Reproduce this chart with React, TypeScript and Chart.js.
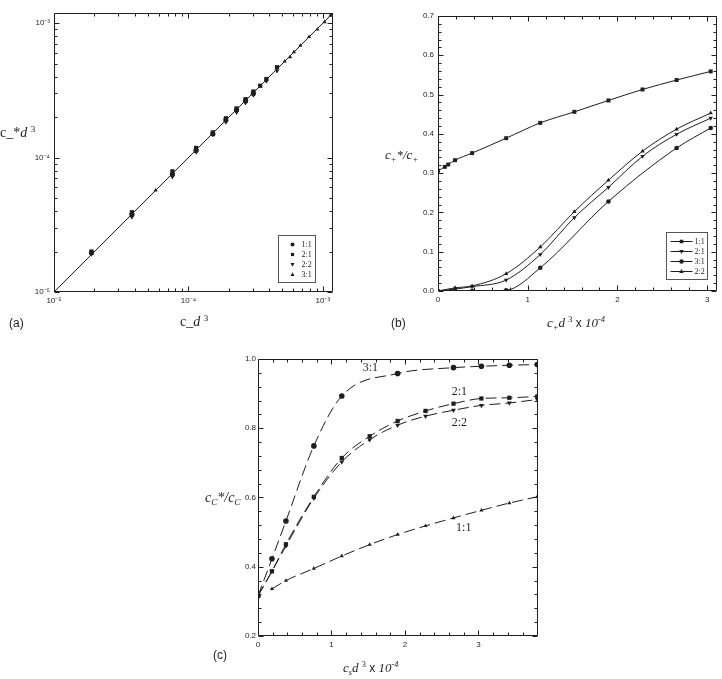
import React, { useEffect, useRef } from "react";
import { Chart, registerables } from "chart.js";
Chart.register(...registerables);

// ---------- Panel (a): c_-* d^3 vs c_- d^3 (log-log) ----------
const A_X_11 = [1.9e-5, 3.8e-5, 7.6e-5, 1.14e-4, 1.52e-4, 1.9e-4, 2.28e-4, 2.66e-4, 3.04e-4];
const A_Y_11 = [1.96e-5, 3.78e-5, 7.5e-5, 1.13e-4, 1.5e-4, 1.9e-4, 2.26e-4, 2.64e-4, 3.0e-4];
const A_X_21 = [1.9e-5, 3.8e-5, 7.6e-5, 1.14e-4, 1.52e-4, 1.9e-4, 2.28e-4, 2.66e-4, 3.04e-4, 3.42e-4, 3.8e-4, 4.56e-4];
const A_Y_21 = [2.0e-5, 3.92e-5, 7.9e-5, 1.18e-4, 1.54e-4, 1.96e-4, 2.32e-4, 2.72e-4, 3.1e-4, 3.42e-4, 3.84e-4, 4.7e-4];
const A_X_22 = [1.9e-5, 3.8e-5, 7.6e-5, 1.14e-4, 1.52e-4, 1.9e-4, 2.28e-4, 2.66e-4, 3.04e-4, 3.8e-4, 4.56e-4];
const A_Y_22 = [1.92e-5, 3.62e-5, 7.2e-5, 1.1e-4, 1.5e-4, 1.84e-4, 2.18e-4, 2.56e-4, 2.92e-4, 3.72e-4, 4.42e-4];
const A_X_31 = [5.7e-5, 5.2e-4, 5.7e-4, 6.1e-4, 6.8e-4, 7.9e-4, 9.1e-4, 1.03e-3, 1.14e-3];
const A_Y_31 = [5.7e-5, 5.2e-4, 5.6e-4, 6.1e-4, 6.8e-4, 7.9e-4, 9.0e-4, 1.02e-3, 1.14e-3];
const A_LINE = [1e-5, 1.19e-3];
const A_TICKS = [1e-5, 1e-4, 1e-3];
const A_MIN = 1e-5;
const A_MAX = 1.19e-3;

// ---------- Panel (b): c+*/c+ vs c+ d^3 x 10^-4 ----------
const B_X_11 = [0, 0.076, 0.114, 0.19, 0.38, 0.76, 1.14, 1.52, 1.9, 2.28, 2.66, 3.04];
const B_Y_11 = [0.306, 0.316, 0.322, 0.333, 0.351, 0.389, 0.428, 0.456, 0.485, 0.513, 0.537, 0.559];
const B_X_21 = [0, 0.19, 0.38, 0.76, 1.14, 1.52, 1.9, 2.28, 2.66, 3.04];
const B_Y_21 = [0, 0.005, 0.011, 0.028, 0.093, 0.187, 0.264, 0.343, 0.399, 0.44];
const B_X_31 = [0, 0.19, 0.38, 0.76, 1.14, 1.9, 2.66, 3.04];
const B_Y_31 = [0, 0, 0, 0.002, 0.059, 0.228, 0.364, 0.415];
const B_X_22 = [0, 0.19, 0.38, 0.76, 1.14, 1.52, 1.9, 2.28, 2.66, 3.04];
const B_Y_22 = [0, 0.008, 0.013, 0.044, 0.112, 0.202, 0.282, 0.356, 0.412, 0.453];
const B_X_TICKS = [0, 1, 2, 3];
const B_Y_TICKS = [0, 0.1, 0.2, 0.3, 0.4, 0.5, 0.6, 0.7];

// ---------- Panel (c): cC*/cC vs cs d^3 x 10^-4 ----------
const C_X_31 = [0, 0.19, 0.38, 0.76, 1.14, 1.9, 2.66, 3.04, 3.42, 3.8];
const C_Y_31 = [0.316, 0.423, 0.532, 0.749, 0.893, 0.958, 0.975, 0.979, 0.982, 0.984];
const C_X_21 = [0, 0.19, 0.38, 0.76, 1.14, 1.52, 1.9, 2.28, 2.66, 3.04, 3.42, 3.8];
const C_Y_21 = [0.316, 0.387, 0.465, 0.602, 0.714, 0.777, 0.821, 0.85, 0.871, 0.886, 0.888, 0.892];
const C_X_22 = [0, 0.19, 0.38, 0.76, 1.14, 1.52, 1.9, 2.28, 2.66, 3.04, 3.42, 3.8];
const C_Y_22 = [0.316, 0.387, 0.46, 0.598, 0.703, 0.767, 0.809, 0.835, 0.852, 0.866, 0.873, 0.883];
const C_X_11 = [0.19, 0.38, 0.76, 1.14, 1.52, 1.9, 2.28, 2.66, 3.04, 3.42, 3.8];
const C_Y_11 = [0.336, 0.36, 0.395, 0.431, 0.464, 0.493, 0.518, 0.541, 0.563, 0.584, 0.602];
const C_X_TICKS = [0, 1, 2, 3];
const C_Y_TICKS = [0.2, 0.4, 0.6, 0.8, 1.0];
const C_LABELS = ["3:1", "2:1", "2:2", "1:1"];
const C_LABEL_X = [1.53, 2.74, 2.74, 2.8];
const C_LABEL_Y = [0.975, 0.905, 0.815, 0.5135];

const INK = "#1e1e1e";
const TICK_FONT = { family: "'Liberation Sans', Arial, sans-serif", size: 8 };

const pts = (xs: number[], ys: number[]) => xs.map((x, i) => ({ x, y: ys[i] }));

type Mk = "circle" | "rect" | "tri" | "down";

function drawMarker(ctx: CanvasRenderingContext2D, mk: Mk, x: number, y: number, r: number) {
  ctx.beginPath();
  if (mk === "circle") ctx.arc(x, y, r, 0, Math.PI * 2);
  else if (mk === "rect") ctx.rect(x - r * 0.8, y - r * 0.8, r * 1.6, r * 1.6);
  else if (mk === "tri") {
    ctx.moveTo(x, y - r * 1.1);
    ctx.lineTo(x + r, y + r * 0.7);
    ctx.lineTo(x - r, y + r * 0.7);
  } else {
    ctx.moveTo(x, y + r * 1.1);
    ctx.lineTo(x + r, y - r * 0.7);
    ctx.lineTo(x - r, y - r * 0.7);
  }
  ctx.closePath();
  ctx.fill();
}

function linTicks(min: number, max: number, minor: number, every: number) {
  const out: { v: number; len: number }[] = [];
  for (let i = 0; ; i++) {
    const v = min + i * minor;
    if (v > max + 1e-9) break;
    out.push({ v, len: i % every === 0 ? 5 : 3 });
  }
  return out;
}

function logTicks(min: number, max: number) {
  const out: { v: number; len: number }[] = [];
  for (let e = Math.floor(Math.log10(min)); e <= Math.ceil(Math.log10(max)); e++) {
    for (let k = 1; k <= 9; k++) {
      const v = k * Math.pow(10, e);
      if (v >= min * 0.999 && v <= max * 1.001) out.push({ v, len: k === 1 ? 5 : 3 });
    }
  }
  return out;
}

type Legend = {
  dr: number; db: number; w: number; h: number; row0: number; step: number;
  line: boolean; lx0: number; lx1: number; mkX: number; textX: number; font: string; r: number;
  items: { label: string; mk: Mk }[];
};

function decor(opts: {
  xTicks: { v: number; len: number }[];
  yTicks: { v: number; len: number }[];
  legend?: Legend;
  notes?: { text: string; x: number; y: number }[];
  noteFont?: string;
}) {
  return {
    id: "decor",
    afterDraw(chart: any) {
      const ctx: CanvasRenderingContext2D = chart.ctx;
      const a = chart.chartArea;
      const xs = chart.scales.x;
      const ys = chart.scales.y;
      ctx.save();
      ctx.strokeStyle = INK;
      ctx.fillStyle = INK;
      ctx.lineWidth = 1;
      const L = Math.round(a.left) + 0.5;
      const R = Math.round(a.right) - 0.5;
      const T = Math.round(a.top) + 0.5;
      const B = Math.round(a.bottom) - 0.5;
      ctx.beginPath();
      ctx.rect(L, T, R - L, B - T);
      for (const t of opts.xTicks) {
        const p = Math.round(xs.getPixelForValue(t.v)) + 0.5;
        ctx.moveTo(p, B);
        ctx.lineTo(p, B - t.len);
        ctx.moveTo(p, T);
        ctx.lineTo(p, T + t.len);
      }
      for (const t of opts.yTicks) {
        const p = Math.round(ys.getPixelForValue(t.v)) + 0.5;
        ctx.moveTo(L, p);
        ctx.lineTo(L + t.len, p);
        ctx.moveTo(R, p);
        ctx.lineTo(R - t.len, p);
      }
      ctx.stroke();

      const lg = opts.legend;
      if (lg) {
        const bx = Math.round(a.right - lg.dr - lg.w) + 0.5;
        const by = Math.round(a.bottom - lg.db - lg.h) + 0.5;
        ctx.fillStyle = "#fff";
        ctx.fillRect(bx, by, lg.w, lg.h);
        ctx.strokeStyle = "#555";
        ctx.lineWidth = 1;
        ctx.strokeRect(bx, by, lg.w, lg.h);
        ctx.strokeStyle = INK;
        ctx.fillStyle = INK;
        ctx.font = lg.font;
        ctx.textBaseline = "middle";
        ctx.textAlign = "left";
        lg.items.forEach((it, i) => {
          const y = by + lg.row0 + i * lg.step;
          if (lg.line) {
            ctx.beginPath();
            ctx.moveTo(bx + lg.lx0, y);
            ctx.lineTo(bx + lg.lx1, y);
            ctx.stroke();
          }
          drawMarker(ctx, it.mk, bx + lg.mkX, y, lg.r);
          ctx.fillText(it.label, bx + lg.textX, y);
        });
      }

      if (opts.notes) {
        ctx.fillStyle = INK;
        ctx.font = opts.noteFont || "12px 'Liberation Serif', serif";
        ctx.textAlign = "center";
        ctx.textBaseline = "middle";
        for (const n of opts.notes) {
          ctx.fillText(n.text, xs.getPixelForValue(n.x), ys.getPixelForValue(n.y));
        }
      }
      ctx.restore();
    },
  };
}

const sup10 = (e: number) => {
  const map: Record<string, string> = { "-": "⁻", "0": "⁰", "1": "¹", "2": "²", "3": "³", "4": "⁴", "5": "⁵", "6": "⁶", "7": "⁷", "8": "⁸", "9": "⁹" };
  return "10" + String(e).split("").map((c) => map[c] || c).join("");
};

function axis(type: string, min: number, max: number, ticks: number[], fmt: (v: number) => string, pad: number, fit: (s: any) => void) {
  return {
    type,
    min,
    max,
    grid: { display: false, drawTicks: false },
    border: { display: false },
    afterBuildTicks: (s: any) => {
      s.ticks = ticks.map((v) => ({ value: v }));
    },
    afterFit: fit,
    ticks: {
      autoSkip: false,
      maxRotation: 0,
      padding: pad,
      color: INK,
      font: TICK_FONT,
      callback: (v: any) => fmt(Number(v)),
    },
  };
}

const series = (data: any[], mk: Mk, r: number, extra: any = {}) => ({
  data,
  showLine: true,
  borderColor: INK,
  borderWidth: 1,
  backgroundColor: INK,
  pointBackgroundColor: INK,
  pointBorderColor: INK,
  pointBorderWidth: 0,
  pointRadius: r,
  pointStyle: mk === "circle" ? "circle" : mk === "rect" ? "rect" : "triangle",
  rotation: mk === "down" ? 180 : 0,
  ...extra,
});

const baseOpts = (padding: any, scales: any) => ({
  responsive: false,
  animation: false as const,
  maintainAspectRatio: false,
  layout: { padding },
  plugins: { legend: { display: false }, tooltip: { enabled: false } },
  scales,
});

function makeA() {
  const fmt = (v: number) => sup10(Math.round(Math.log10(v)));
  const pointOnly = { showLine: false };
  return {
    type: "scatter",
    data: {
      datasets: [
        series(pts(A_LINE, A_LINE), "circle", 0, { borderWidth: 1 }),
        series(pts(A_X_11, A_Y_11), "circle", 2.6, pointOnly),
        series(pts(A_X_21, A_Y_21), "rect", 3, pointOnly),
        series(pts(A_X_22, A_Y_22), "down", 2.8, pointOnly),
        series(pts(A_X_31, A_Y_31), "tri", 2.4, pointOnly),
      ],
    },
    options: baseOpts({ left: 0, top: 13, right: 12, bottom: 8 }, {
      x: axis("logarithmic", A_MIN, A_MAX, A_TICKS, fmt, 4, (s: any) => { s.height = 20; }),
      y: axis("logarithmic", A_MIN, A_MAX, A_TICKS, fmt, 4, (s: any) => { s.width = 54; }),
    }),
    plugins: [
      decor({
        xTicks: logTicks(A_MIN, A_MAX),
        yTicks: logTicks(A_MIN, A_MAX),
        legend: {
          dr: 18, db: 10, w: 37, h: 47, row0: 9, step: 10, line: false, lx0: 0, lx1: 0, mkX: 14, textX: 23,
          font: "8px 'Liberation Serif', serif", r: 2,
          items: [
            { label: "1:1", mk: "circle" },
            { label: "2:1", mk: "rect" },
            { label: "2:2", mk: "down" },
            { label: "3:1", mk: "tri" },
          ],
        },
      }),
    ],
  };
}

function makeB() {
  const smooth = { cubicInterpolationMode: "monotone" };
  return {
    type: "scatter",
    data: {
      datasets: [
        series(pts(B_X_11, B_Y_11), "rect", 2.8, smooth),
        series(pts(B_X_21, B_Y_21), "down", 2.6, smooth),
        series(pts(B_X_31, B_Y_31), "circle", 2.3, smooth),
        series(pts(B_X_22, B_Y_22), "tri", 2.5, smooth),
      ],
    },
    options: baseOpts({ left: 0, top: 16, right: 5, bottom: 9 }, {
      x: axis("linear", 0, 3.11, B_X_TICKS, (v) => String(v), 4, (s: any) => { s.height = 20; }),
      y: axis("linear", 0, 0.7, B_Y_TICKS, (v) => v.toFixed(1), 4, (s: any) => { s.width = 78; }),
    }),
    plugins: [
      decor({
        xTicks: linTicks(0, 3.11, 0.2, 5),
        yTicks: linTicks(0, 0.7, 0.02, 5),
        legend: {
          dr: 10, db: 12, w: 41, h: 47, row0: 9, step: 10, line: true, lx0: 4, lx1: 26, mkX: 15, textX: 28,
          font: "8px 'Liberation Serif', serif", r: 2.2,
          items: [
            { label: "1:1", mk: "rect" },
            { label: "2:1", mk: "down" },
            { label: "3:1", mk: "circle" },
            { label: "2:2", mk: "tri" },
          ],
        },
      }),
    ],
  };
}

function makeC() {
  const dashed = { cubicInterpolationMode: "monotone", borderDash: [11, 5] };
  return {
    type: "scatter",
    data: {
      datasets: [
        series(pts(C_X_31, C_Y_31), "circle", 2.8, dashed),
        series(pts(C_X_21, C_Y_21), "rect", 3, dashed),
        series(pts(C_X_22, C_Y_22), "down", 2.8, dashed),
        series(pts(C_X_11, C_Y_11), "tri", 2.4, dashed),
      ],
    },
    options: baseOpts({ left: 0, top: 9, right: 7, bottom: 23 }, {
      x: axis("linear", 0, 3.81, C_X_TICKS, (v) => String(v), 4, (s: any) => { s.height = 20; }),
      y: axis("linear", 0.2, 1.0, C_Y_TICKS, (v) => v.toFixed(1), 2, (s: any) => { s.width = 58; }),
    }),
    plugins: [
      decor({
        xTicks: linTicks(0, 3.81, 0.2, 5),
        yTicks: linTicks(0.2, 1.0, 0.04, 5),
        notes: C_LABELS.map((t, i) => ({ text: t, x: C_LABEL_X[i], y: C_LABEL_Y[i] })),
        noteFont: "12px 'Liberation Serif', serif",
      }),
    ],
  };
}

function Panel({ left, top, w, h, make }: { left: number; top: number; w: number; h: number; make: () => any }) {
  const ref = useRef<HTMLCanvasElement>(null);
  useEffect(() => {
    const chart = new Chart(ref.current as HTMLCanvasElement, make() as any);
    return () => chart.destroy();
  }, []);
  return (
    <div style={{ position: "absolute", left, top, width: w, height: h }}>
      <canvas ref={ref} width={w} height={h} style={{ width: w, height: h, display: "block" }} />
    </div>
  );
}

const Sup = ({ children }: { children: any }) => (
  <span style={{ fontSize: "0.65em", verticalAlign: "0.6em", lineHeight: 0 }}>{children}</span>
);
const Sub = ({ children }: { children: any }) => (
  <span style={{ fontSize: "0.65em", verticalAlign: "-0.35em", lineHeight: 0 }}>{children}</span>
);

const txt = (left: number, top: number, size: number, extra: any = {}) => ({
  position: "absolute" as const,
  left,
  top,
  fontSize: size,
  lineHeight: 1,
  whiteSpace: "nowrap" as const,
  color: INK,
  fontFamily: "'Liberation Serif', serif",
  ...extra,
});
const sans = { fontFamily: "'Liberation Sans', Arial, sans-serif" };

export default function App() {
  return (
    <div style={{ position: "absolute", left: 0, top: 0, width: 722, height: 679, background: "#fff", overflow: "hidden" }}>
      <Panel left={0} top={0} w={345} h={320} make={makeA} />
      <Panel left={360} top={0} w={362} h={320} make={makeB} />
      <Panel left={200} top={350} w={345} h={329} make={makeC} />

      {/* panel (a) titles */}
      <div style={txt(0, 126, 14)}>
        c_*<i>d</i> <Sup>3</Sup>
      </div>
      <div style={txt(180, 315, 14)}>
        c_<i>d</i> <Sup>3</Sup>
      </div>
      <div style={txt(9, 317, 12, sans)}>(a)</div>

      {/* panel (b) titles */}
      <div style={txt(385, 148, 13, { fontStyle: "italic" })}>
        c<Sub>+</Sub>*/c<Sub>+</Sub>
      </div>
      <div style={txt(547, 316, 13)}>
        <i>c</i>
        <Sub><i>+</i></Sub>
        <i>d</i> <Sup>3</Sup> <span style={{ ...sans, fontSize: 12 }}>x</span> <i>10</i>
        <Sup><i>-4</i></Sup>
      </div>
      <div style={txt(391, 317, 12, sans)}>(b)</div>

      {/* panel (c) titles */}
      <div style={txt(205, 491, 14, { fontStyle: "italic" })}>
        c<Sub>C</Sub>*/c<Sub>C</Sub>
      </div>
      <div style={txt(343, 661, 13)}>
        <i>c</i>
        <Sub><i>s</i></Sub>
        <i>d</i> <Sup>3</Sup> <span style={{ ...sans, fontSize: 12 }}>x</span> <i>10</i>
        <Sup><i>-4</i></Sup>
      </div>
      <div style={txt(213, 649, 12, sans)}>(c)</div>
    </div>
  );
}
